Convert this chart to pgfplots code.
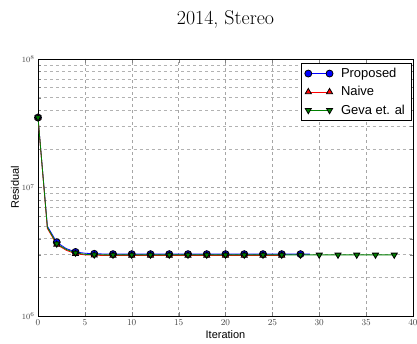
\documentclass[border=0pt]{standalone}
\usepackage{fontspec}
\usepackage{pgfplots}
\pgfplotsset{compat=1.18}
\newfontfamily\arial{Liberation Sans}
\begin{document}
\begin{tikzpicture}
\begin{axis}[
  name=ax,
  scale only axis, width=375bp, height=257bp,
  ymode=log, xmin=0, xmax=40, ymin=1e6, ymax=1e8,
  xtick={0,5,...,40},
  ytick={1e6,1e7,1e8},
  xticklabel style={font=\fontsize{9.5}{10}\selectfont, text=black!75},
  yticklabel style={font=\fontsize{8}{9}\selectfont, text=black!75},
  grid=both,
  major grid style={gray!70, dashed, line width=0.4pt},
  minor grid style={gray!60, dashed, line width=0.4pt},
  minor x tick num=0,
  tick align=inside,
  axis line style={line width=0.8pt},
  title={\fontsize{20}{24}\selectfont 2014, Stereo},
  title style={at={(0.5,1)}, anchor=base, yshift=29bp, inner sep=0pt},
  xlabel={\arial\fontsize{11}{12}\selectfont Iteration},
  ylabel={\arial\fontsize{11}{12}\selectfont Residual},
  xlabel style={at={(0.5,0)}, anchor=base, yshift=-23bp, inner sep=0pt},
  ylabel style={at={(0,0.5)}, anchor=center, yshift=23bp, inner sep=0pt},
  legend style={at={(0.995,0.985)}, anchor=north east, font=\arial\fontsize{13}{15}\selectfont, draw=black, line width=0.6pt, row sep=3.5pt, column sep=6pt, inner xsep=4pt, inner ysep=3pt},
  legend cell align=left,
  legend image code/.code={\draw[mark repeat=1, mark phase=1] plot coordinates {(0cm,0cm) (0.75cm,0cm)};},
  every axis plot/.append style={line width=0.8pt, mark size=3.5pt},
]
\addplot[blue, mark=*, mark options={fill=blue, draw=black}, mark repeat=2] coordinates {
(0,3.5e7)(1,5.0e6)(2,3.75e6)(3,3.35e6)(4,3.15e6)(5,3.08e6)(6,3.05e6)(7,3.04e6)(8,3.03e6)(9,3.03e6)(10,3.03e6)
(11,3.03e6)(12,3.03e6)(13,3.03e6)(14,3.03e6)(15,3.03e6)(16,3.03e6)(17,3.03e6)(18,3.03e6)(19,3.03e6)(20,3.03e6)
(21,3.03e6)(22,3.03e6)(23,3.03e6)(24,3.03e6)(25,3.03e6)(26,3.03e6)(27,3.03e6)(28,3.03e6)(29,3.03e6)};
\addlegendentry{Proposed}
\addplot[red, mark=triangle*, mark options={fill=red, draw=black}, mark repeat=2] coordinates {
(0,3.5e7)(1,4.8e6)(2,3.6e6)(3,3.25e6)(4,3.05e6)(5,2.99e6)(6,2.97e6)(7,2.96e6)(8,2.96e6)(9,2.96e6)(10,2.96e6)
(11,2.96e6)(12,2.96e6)(13,2.96e6)(14,2.96e6)(15,2.96e6)(16,2.96e6)(17,2.96e6)(18,2.96e6)(19,2.96e6)(20,2.96e6)
(21,2.96e6)(22,2.96e6)(23,2.96e6)(24,2.96e6)(25,2.96e6)(26,2.96e6)};
\addlegendentry{Naive}
\addplot[green!50!black, mark=triangle*, mark options={fill=green!50!black, draw=black, rotate=180}, mark repeat=2] coordinates {
(0,3.5e7)(1,4.9e6)(2,3.65e6)(3,3.3e6)(4,3.1e6)(5,3.02e6)(6,3.0e6)(7,2.99e6)(8,2.99e6)(9,2.99e6)(10,2.99e6)
(11,2.99e6)(12,2.99e6)(13,2.99e6)(14,2.99e6)(15,2.99e6)(16,2.99e6)(17,2.99e6)(18,2.99e6)(19,2.99e6)(20,2.99e6)
(21,2.99e6)(22,2.99e6)(23,2.99e6)(24,2.99e6)(25,2.99e6)(26,2.99e6)(27,2.99e6)(28,2.99e6)(29,2.99e6)(30,2.99e6)
(31,2.99e6)(32,2.99e6)(33,2.99e6)(34,2.99e6)(35,2.99e6)(36,2.99e6)(37,2.99e6)(38,2.99e6)};
\addlegendentry{Geva et. al}
\end{axis}
\pgfresetboundingbox
\path[use as bounding box] ([shift={(-38bp,-28bp)}]ax.south west) rectangle ([shift={(4bp,59bp)}]ax.north east);
\end{tikzpicture}
\end{document}
